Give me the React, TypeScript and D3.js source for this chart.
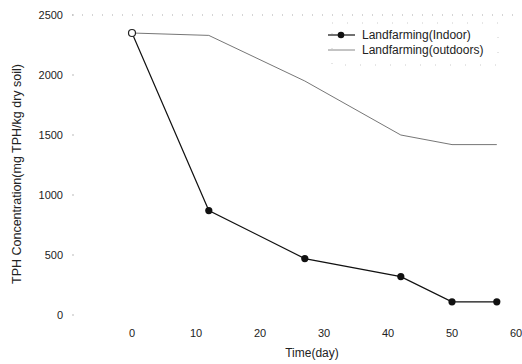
import React, { useEffect, useRef } from "react";
import * as d3 from "d3";

const days = [0, 12, 27, 42, 50, 57];
const indoor = [2350, 870, 470, 320, 110, 110];
const outdoors = [2350, 2330, 1950, 1500, 1420, 1420];
const xTicks = [0, 10, 20, 30, 40, 50, 60];
const yTicks = [0, 500, 1000, 1500, 2000, 2500];
const seriesNames = ["Landfarming(Indoor)", "Landfarming(outdoors)"];

const App = () => {
  const ref = useRef<SVGSVGElement>(null);

  useEffect(() => {
    const svg = d3.select(ref.current);
    svg.selectAll("*").remove();

    const x = d3.scaleLinear().domain([0, 60]).range([132, 516]);
    const y = d3.scaleLinear().domain([0, 2500]).range([315, 15]);
    const font = "Liberation Sans, Arial, sans-serif";

    // dotted top border
    svg.append("line")
      .attr("x1", 72).attr("x2", 516)
      .attr("y1", y(2500)).attr("y2", y(2500))
      .attr("stroke", "#aaa").attr("stroke-width", 1)
      .attr("stroke-dasharray", "1,9");

    // y axis ticks and labels
    const yg = svg.append("g");
    yg.selectAll("text").data(yTicks).join("text")
      .attr("x", 63).attr("y", d => y(d)).attr("dy", "0.35em")
      .attr("text-anchor", "end")
      .attr("font-family", font).attr("font-size", 11)
      .attr("fill", "#222")
      .text(d => d);
    yg.selectAll("line").data(yTicks).join("line")
      .attr("x1", 72).attr("x2", 74)
      .attr("y1", d => y(d)).attr("y2", d => y(d))
      .attr("stroke", "#bbb");

    // x axis labels
    svg.append("g").selectAll("text").data(xTicks).join("text")
      .attr("x", d => x(d)).attr("y", 337)
      .attr("text-anchor", "middle")
      .attr("font-family", font).attr("font-size", 11)
      .attr("fill", "#222")
      .text(d => d);

    svg.append("text")
      .attr("x", 312).attr("y", 357)
      .attr("text-anchor", "middle")
      .attr("font-family", font).attr("font-size", 12)
      .attr("fill", "#222")
      .text("Time(day)");

    svg.append("text")
      .attr("transform", "translate(21,174) rotate(-90)")
      .attr("text-anchor", "middle")
      .attr("font-family", font).attr("font-size", 12.5)
      .attr("fill", "#222")
      .text("TPH Concentration(mg TPH/kg dry soil)");

    const line = d3.line<number>().x((_, i) => x(days[i])).y(d => y(d));

    // outdoors
    svg.append("path").datum(outdoors)
      .attr("d", line)
      .attr("fill", "none").attr("stroke", "#666").attr("stroke-width", 0.9);

    // indoor
    svg.append("path").datum(indoor)
      .attr("d", line)
      .attr("fill", "none").attr("stroke", "#111").attr("stroke-width", 1.2);
    svg.append("g").selectAll("circle").data(indoor.slice(1)).join("circle")
      .attr("cx", (_, i) => x(days[i + 1])).attr("cy", d => y(d))
      .attr("r", 3.6).attr("fill", "#111");

    // outdoors start marker (open)
    svg.append("circle")
      .attr("cx", x(days[0])).attr("cy", y(outdoors[0]))
      .attr("r", 3.5).attr("fill", "#fff").attr("stroke", "#222").attr("stroke-width", 1.2);

    // legend
    const lg = svg.append("g");
    lg.append("rect")
      .attr("x", 332).attr("y", 23).attr("width", 166).attr("height", 42)
      .attr("fill", "none").attr("stroke", "#ccc").attr("stroke-dasharray", "1,14");
    lg.append("line").attr("x1", 328).attr("x2", 355).attr("y1", 35).attr("y2", 35)
      .attr("stroke", "#111").attr("stroke-width", 1.2);
    lg.append("circle").attr("cx", 341).attr("cy", 35).attr("r", 3.3).attr("fill", "#111");
    lg.append("line").attr("x1", 328).attr("x2", 355).attr("y1", 50).attr("y2", 50)
      .attr("stroke", "#888").attr("stroke-width", 1);
    lg.selectAll("text").data(seriesNames).join("text")
      .attr("x", 362).attr("y", (_, i) => 35 + i * 15).attr("dy", "0.35em")
      .attr("font-family", font).attr("font-size", 12)
      .attr("fill", "#222")
      .text(d => d);
  }, []);

  return (
    <svg ref={ref} width={522} height={364}
      style={{ position: "absolute", left: 0, top: 0, background: "#fff" }} />
  );
};

export default App;
